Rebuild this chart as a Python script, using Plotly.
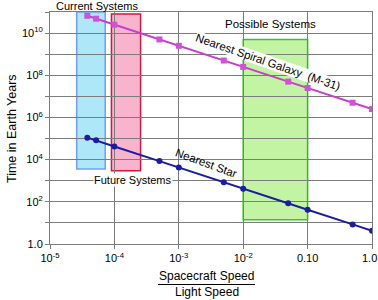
import plotly.graph_objects as go

speed = [3.8e-5, 5.2e-5, 1e-4, 5e-4, 1e-3, 5e-3, 1e-2, 5e-2, 0.1, 0.5, 1.0]
galaxy_years = [6.6e10, 4.8e10, 2.5e10, 5.0e9, 2.5e9, 5.0e8, 2.5e8, 5.0e7, 2.5e7, 5.0e6, 2.5e6]
star_years = [1.1e5, 8.2e4, 4.2e4, 8.5e3, 4.2e3, 850, 420, 85, 42, 8.5, 4.2]

x_tickvals = [1e-5, 1e-4, 1e-3, 1e-2, 0.1, 1.0]
x_ticktext = ["10<sup>-5</sup>", "10<sup>-4</sup>", "10<sup>-3</sup>", "10<sup>-2</sup>", "0.10", "1.0"]
y_tickvals = [1, 1e2, 1e4, 1e6, 1e8, 1e10]
y_ticktext = ["1.0", "10<sup>2</sup>", "10<sup>4</sup>", "10<sup>6</sup>", "10<sup>8</sup>", "10<sup>10</sup>"]

# boxes: (x0, x1, y0, y1)
current_box = [2.6e-5, 7.2e-5, 3.6e3, 1e11]
future_box = [9.0e-5, 2.55e-4, 3.0e3, 8e10]
possible_box = [1e-2, 0.1, 14, 5e9]

FONT = "Liberation Sans, Arial, sans-serif"

fig = go.Figure()
fig.add_trace(go.Scatter(x=speed, y=galaxy_years, mode="lines+markers",
                         line=dict(color="#c83cd0", width=2),
                         marker=dict(symbol="square", size=6, color="#d050d8"),
                         showlegend=False))
fig.add_trace(go.Scatter(x=speed, y=star_years, mode="lines+markers",
                         line=dict(color="#1c1ca0", width=2),
                         marker=dict(symbol="circle", size=6, color="#1c1ca0"),
                         showlegend=False))

def box(b, fill, border):
    fig.add_shape(type="rect", xref="x", yref="y", x0=b[0], x1=b[1], y0=b[2], y1=b[3],
                  fillcolor=fill, line=dict(color=border, width=1.5), layer="below")

box(current_box, "#aee8f8", "#6fa0f0")
box(future_box, "#f8b4cc", "#d01840")
box(possible_box, "#c2f4a4", "#40c030")

# fraction bar under x title
fig.add_shape(type="line", xref="paper", yref="paper", x0=(158-50)/322, x1=(255-50)/322,
              y0=(244-284.5)/232, y1=(244-284.5)/232, line=dict(color="black", width=1.2))

def px_ann(text, x, y, size=11, angle=0, bg=None, xanchor="center"):
    fig.add_annotation(text=text, xref="paper", yref="paper",
                       x=(x-50)/322, y=(244-y)/232, showarrow=False,
                       font=dict(family=FONT, size=size, color="black"),
                       textangle=angle, bgcolor=bg, borderpad=0,
                       xanchor=xanchor, yanchor="middle")

px_ann("Current Systems", 96.5, 6, 11)
px_ann("Possible Systems", 270.5, 24, 11.5)
px_ann("Future Systems", 132.5, 180, 11, bg="white")
px_ann("Nearest Spiral Galaxy  (M-31)", 268, 62, 11.5, angle=19, bg="white")
px_ann("Nearest Star", 206, 163, 11.5, angle=20)
px_ann("Spacecraft Speed", 206.5, 276, 12)
px_ann("Light Speed", 206.5, 292, 12)
px_ann("Time in Earth Years", 12, 129, 12.5, angle=-90)
# last x tick label, kept inside the page edge as in the reference
px_ann(x_ticktext[-1], 377.5, 257.5, 11, xanchor="right")

fig.update_xaxes(type="log", range=[-5, 0], tickmode="array",
                 tickvals=x_tickvals, ticktext=x_ticktext[:-1] + [""], automargin=False,
                 showgrid=True, gridcolor="#7c7c7c", gridwidth=1,
                 ticks="outside", ticklen=4, tickcolor="#7c7c7c",
                 showline=True, linecolor="#7c7c7c", mirror=True,
                 tickfont=dict(family=FONT, size=11, color="black"))
fig.update_yaxes(type="log", range=[0, 11],
                 tickmode="array", automargin=False,
                 ticklabeloverflow="allow",
                 tickvals=[10**k for k in range(0, 12)],
                 ticktext=[y_ticktext[y_tickvals.index(10**k)] if 10**k in y_tickvals else "" for k in range(0, 12)],
                 showgrid=True, gridcolor="#7c7c7c", gridwidth=1,
                 ticks="outside", ticklen=4, tickcolor="#7c7c7c",
                 showline=True, linecolor="#7c7c7c", mirror=True,
                 tickfont=dict(family=FONT, size=11, color="black"))

fig.update_layout(width=378, height=300, margin=dict(l=50, r=6, t=12, b=56, autoexpand=False),
                  paper_bgcolor="white", plot_bgcolor="white", showlegend=False)

fig.write_html("out.html", config={"displayModeBar": False},
               post_script="document.body.style.margin='0';")
